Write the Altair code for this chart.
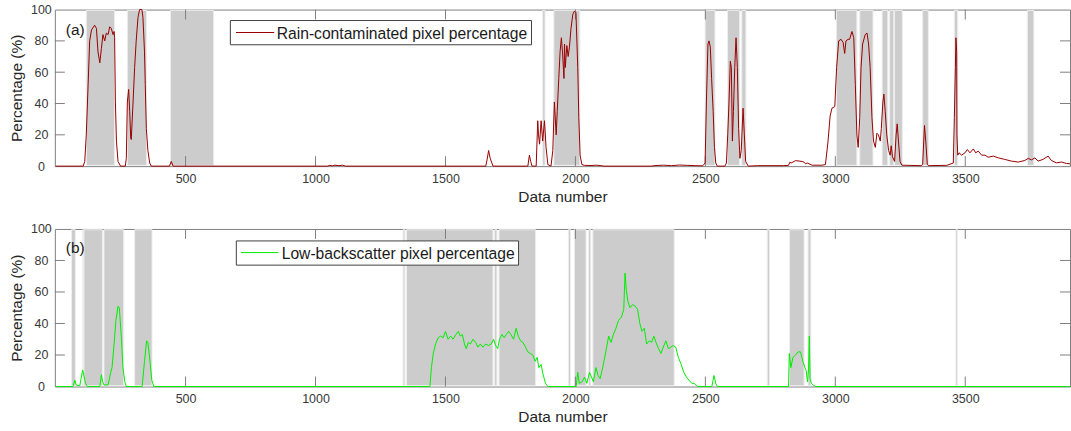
import altair as alt
import pandas as pd

FONT = "Liberation Sans"
TXT = "#262626"
TICK_LBL = "#383838"
BOX = "#7f7f7f"

X_TICKS = [500, 1000, 1500, 2000, 2500, 3000, 3500]
Y_TICKS = [0, 20, 40, 60, 80, 100]
X_DOMAIN = [-3, 3903]

X_TITLE = "Data number"
Y_TITLE = "Percentage (%)"
LEGEND_A = "Rain-contaminated pixel percentage"
LEGEND_B = "Low-backscatter pixel percentage"

# ---------------- panel (a): rain-contaminated pixel percentage ----------------
RAIN_X1 = [0, 106, 112, 118, 125, 131, 138, 150, 157, 163, 170, 176, 182, 189, 195, 202, 208, 214, 221, 225, 227, 230, 234, 240, 250]
RAIN_Y1 = [0, 0, 3, 20, 52, 80, 87, 90, 88, 73, 66, 75, 84, 80, 85, 84, 89, 88, 84, 86, 82, 41, 16, 3, 0]
RAIN_X2 = [268, 272, 276, 281, 285, 289, 291, 298, 304, 310, 317, 323, 332, 336, 342, 345, 349, 355, 362, 368]
RAIN_Y2 = [0, 5, 41, 49, 35, 18, 17, 41, 63, 80, 95, 100, 100, 95, 73, 52, 24, 10, 2, 0]
RAIN_X3 = [438, 445, 452, 1045, 1055, 1065, 1075, 1090, 1105, 1115, 1655, 1660, 1666, 1672, 1683, 1810, 1817, 1823, 1828, 1833, 1845]
RAIN_Y3 = [0, 3, 0, 0, 0.5, 0.2, 0.6, 0.3, 0.6, 0, 0, 4, 10, 5, 0, 0, 0, 7, 3, 0, 0]
RAIN_X4 = [1849, 1855, 1858, 1862, 1868, 1874, 1881, 1887, 1894, 1906, 1913, 1919, 1926, 1930, 1936, 1941, 1946, 1951, 1956, 1958,
           1961, 1967, 1972, 1977, 1983, 1990, 1996, 2002, 2009, 2013, 2018, 2025]
RAIN_Y4 = [0, 29, 20, 14, 29, 16, 29, 12, 1, 0, 10, 41, 20, 35, 56, 73, 82, 71, 56, 78,
           63, 77, 70, 76, 88, 97, 99, 98, 63, 31, 7, 1]
RAIN_X5 = [2035, 2060, 2080, 2100, 2110, 2290, 2310, 2340, 2370, 2400, 2430, 2460, 2490]
RAIN_Y5 = [0.5, 0.4, 0.6, 0.3, 0, 0, 0.4, 0.6, 0.3, 0.7, 0.5, 0.3, 0.2]
RAIN_X6 = [2499, 2504, 2510, 2514, 2519, 2524, 2530, 2535, 2540, 2546, 2575, 2581, 2586, 2591, 2596, 2600, 2604, 2608, 2613, 2618,
           2623, 2628, 2633, 2638, 2645, 2650, 2655, 2665]
RAIN_Y6 = [2, 41, 78, 80, 76, 56, 35, 12, 2, 0, 0, 2, 20, 41, 67, 63, 16, 35, 63, 82,
           63, 24, 5, 10, 37, 20, 3, 0]
RAIN_X7 = [2700, 2800, 2820, 2825, 2830, 2847, 2872, 2880, 2885, 2892, 2911, 2949, 2962, 2972, 2980, 2987, 2998, 3005, 3013, 3022,
           3030, 3036, 3041, 3049, 3055, 3064, 3071, 3077, 3083, 3088, 3094, 3099, 3105, 3115, 3122, 3128, 3134, 3141, 3147, 3154,
           3160, 3166, 3173, 3177, 3183, 3187, 3192, 3198, 3205, 3211, 3215, 3220, 3228, 3234, 3238, 3243, 3249, 3256]
RAIN_Y7 = [0.3, 0.3, 0.5, 2.5, 2, 3.5, 3, 2.5, 1.5, 2, 0.6, 0.6, 1, 16, 32, 37, 38, 63, 80, 81,
           79, 72, 80, 81, 81, 86, 82, 52, 20, 12, 31, 63, 78, 84, 85, 78, 63, 31, 16, 12,
           21, 20, 16, 24, 41, 46, 35, 20, 10, 7, 13, 6, 3, 20, 27, 16, 3, 0.6]
RAIN_X8 = [3330, 3336, 3343, 3348, 3354, 3360, 3429, 3454, 3458, 3462, 3464, 3467, 3468, 3471, 3476, 3486, 3499, 3508, 3518, 3531,
           3540, 3550, 3563, 3576, 3588, 3608, 3627, 3652, 3678, 3704, 3729, 3742, 3755, 3768, 3780, 3799, 3819, 3831, 3851, 3870,
           3889, 3903]
RAIN_Y8 = [0.3, 1, 26, 16, 1, 0.3, 0.5, 2, 31, 63, 82, 73, 20, 7, 8.5, 7, 8.5, 10.6, 8.5, 11,
           8.5, 9.6, 7, 7, 5.7, 6.4, 5.3, 4.3, 3.2, 2.6, 3.6, 4.9, 4, 5.3, 3.2, 4.3, 6.4, 3.6, 2.1, 2.6,
           1.7, 1.5]

RAIN_PATCH_START = [118, 276, 442, 1874, 1917, 2499, 2585, 2640, 3004, 3094, 3180, 3209, 3228, 3336, 3458, 3739]
RAIN_PATCH_END = [227, 350, 608, 1883, 2017, 2537, 2632, 2656, 3083, 3145, 3202, 3225, 3258, 3358, 3471, 3764]

# ---------------- panel (b): low-backscatter pixel percentage ----------------
LOW_X1 = [0, 67, 74, 79, 93, 99, 104, 110, 115, 122, 170, 176, 181, 186, 202, 212, 217, 225, 232, 240,
          245, 253, 259, 266, 272, 333, 342, 350, 355, 363, 370, 378]
LOW_Y1 = [0, 0, 4, 1, 0.5, 6, 10.5, 6, 2, 0, 0, 7.5, 3, 1, 1, 9, 12, 27, 42, 51,
          50, 31, 12, 3, 0, 0, 16, 29, 28, 16, 4, 0]
LOW_X2 = [1440, 1446, 1453, 1462, 1472, 1481, 1491, 1500, 1510, 1520, 1529, 1540, 1549, 1557, 1565, 1573, 1580, 1588, 1596, 1606,
          1616, 1625, 1634, 1644, 1655, 1665, 1676, 1685, 1693, 1701, 1708, 1717, 1726, 1734, 1743, 1752, 1762, 1772, 1780, 1789,
          1798, 1808, 1817, 1826, 1836, 1845, 1853, 1859, 1868, 1875, 1885, 1894]
LOW_Y2 = [0, 12, 21, 27, 31, 32, 31, 35, 30, 32, 30, 33, 35, 32, 33, 27, 24, 28, 27, 30,
          28, 25, 27, 25, 27, 26, 27, 30, 26, 24, 30, 33, 31, 33, 35, 33, 30, 37, 32, 29,
          28, 25, 22, 21, 20, 16, 18.5, 12, 14, 8, 2, 0]
LOW_X3 = [2003, 2009, 2015, 2026, 2035, 2044, 2054, 2062, 2069, 2079, 2087, 2095, 2105, 2118, 2128, 2137, 2146, 2156, 2166, 2177,
          2186, 2191, 2196, 2202, 2210, 2220, 2230, 2239, 2248, 2256, 2265, 2274, 2284, 2293, 2302, 2310, 2320, 2329, 2338, 2348,
          2358, 2367, 2376, 2386, 2396, 2407, 2417, 2427, 2437, 2448, 2457, 2469, 2525, 2533, 2540, 2546]
LOW_Y3 = [0, 9, 2, 3, 6, 2, 9, 6, 3, 12, 7, 5, 12, 23, 32, 28, 33, 37, 42, 44,
          49, 72, 61, 54, 50, 52, 51, 49, 40, 35, 37, 27, 29, 28, 32, 28, 24, 21, 25, 29,
          24, 25, 26, 25, 18.5, 14, 9, 6, 4, 2, 2, 0, 0, 7, 2, 0]
LOW_X4 = [2820, 2823, 2829, 2837, 2847, 2857, 2866, 2875, 2883, 2888, 2893, 2897, 2900, 2903, 2908, 2917, 2926, 3903]
LOW_Y4 = [0, 21, 12, 18.5, 20, 22, 22, 16, 12, 10, 3, 11, 32, 5, 2, 0.6, 0, 0]

LOW_PATCH_START = [61, 104, 109, 186, 304, 1337, 1350, 1689, 1706, 1973, 1996, 2051, 2067, 2738, 2824, 2895, 3464]
LOW_PATCH_END = [76, 108, 180, 262, 371, 1344, 1683, 1698, 1847, 1981, 2041, 2059, 2380, 2747, 2880, 2906, 3470]

RAIN_X = RAIN_X1 + RAIN_X2 + RAIN_X3 + RAIN_X4 + RAIN_X5 + RAIN_X6 + RAIN_X7 + RAIN_X8
RAIN_Y = RAIN_Y1 + RAIN_Y2 + RAIN_Y3 + RAIN_Y4 + RAIN_Y5 + RAIN_Y6 + RAIN_Y7 + RAIN_Y8
LOW_X = LOW_X1 + LOW_X2 + LOW_X3 + LOW_X4
LOW_Y = LOW_Y1 + LOW_Y2 + LOW_Y3 + LOW_Y4
assert len(RAIN_X) == len(RAIN_Y) and len(LOW_X) == len(LOW_Y)
assert len(RAIN_PATCH_START) == len(RAIN_PATCH_END) and len(LOW_PATCH_START) == len(LOW_PATCH_END)

W = 1018


def panel(xs, ys, p_start, p_end, color, tag, legend_text, H, box, sample, text_xy, tag_xy, anchor=False):
    xscale = alt.Scale(domain=X_DOMAIN, nice=False, zero=False)
    yscale = alt.Scale(domain=[0, 100], nice=False, zero=False)

    x_axis = alt.Axis(
        values=X_TICKS, format="d", ticks=False, domain=False, grid=False,
        labelFont=FONT, labelFontSize=12.5, labelColor=TICK_LBL, labelPadding=6,
        title=X_TITLE, titleFont=FONT, titleFontSize=15.5, titleFontWeight="normal",
        titleColor=TXT, titlePadding=5,
    )
    y_axis = alt.Axis(
        values=Y_TICKS, format="d", ticks=False, domain=False, grid=False,
        labelFont=FONT, labelFontSize=12.5, labelColor=TICK_LBL, labelAlign="center",
        labelBaseline="middle", labelPadding=14, labelFlush=False,
        title=Y_TITLE, titleFont=FONT, titleFontSize=15.5, titleFontWeight="normal",
        titleColor=TXT, titleAngle=270, titleX=-33, titleY=H / 2, titleAlign="center",
        titleBaseline="alphabetic",
    )

    def X(f):
        return alt.X(f, scale=xscale, axis=x_axis)

    def Y(f):
        return alt.Y(f, scale=yscale, axis=y_axis)

    patches = alt.Chart(pd.DataFrame({"s": p_start, "e": p_end, "lo": [0.5] * len(p_start),
                                      "hi": [99.5] * len(p_start)})).mark_rect(
        fill="#cccccc", stroke="#eeeeee", strokeWidth=1
    ).encode(x=X("s:Q"), x2="e:Q", y=Y("lo:Q"), y2="hi:Q")

    tdf = pd.DataFrame({"t": X_TICKS})
    ydf = pd.DataFrame({"t": Y_TICKS[1:-1]})
    tick_b = alt.Chart(tdf).mark_rule(color=BOX, strokeWidth=1).encode(
        x=X("t:Q"), y=alt.value(H), y2=alt.value(H - 10))
    tick_t = alt.Chart(tdf).mark_rule(color=BOX, strokeWidth=1).encode(
        x=X("t:Q"), y=alt.value(0), y2=alt.value(10))
    tick_l = alt.Chart(ydf).mark_rule(color=BOX, strokeWidth=1).encode(
        y=Y("t:Q"), x=alt.value(0), x2=alt.value(10))
    tick_r = alt.Chart(ydf).mark_rule(color=BOX, strokeWidth=1).encode(
        y=Y("t:Q"), x=alt.value(W - 10), x2=alt.value(W))

    line = alt.Chart(pd.DataFrame({"n": xs, "p": ys})).mark_line(
        color=color, strokeWidth=1, strokeJoin="round"
    ).encode(x=X("n:Q"), y=Y("p:Q"), order="n:Q")

    one = pd.DataFrame({"t": [legend_text], "g": [tag]})
    lbox = alt.Chart(one).mark_rect(fill="white", stroke="#404040", strokeWidth=1).encode(
        x=alt.value(box[0]), x2=alt.value(box[1]), y=alt.value(box[2]), y2=alt.value(box[3]))
    lline = alt.Chart(one).mark_rule(color=color, strokeWidth=1).encode(
        x=alt.value(sample[0]), x2=alt.value(sample[1]), y=alt.value(sample[2]))
    ltext = alt.Chart(one).mark_text(
        align="left", baseline="alphabetic", font=FONT, fontSize=15.7, color="#1a1a1a"
    ).encode(x=alt.value(text_xy[0]), y=alt.value(text_xy[1]), text="t:N")
    tagtext = alt.Chart(one).mark_text(
        align="left", baseline="alphabetic", font=FONT, fontSize=15.5, color="#1a1a1a"
    ).encode(x=alt.value(tag_xy[0]), y=alt.value(tag_xy[1]), text="g:N")

    layers = [patches, tick_b, tick_t, tick_l, tick_r, line, lbox, lline, ltext, tagtext]
    if anchor:
        anc = alt.Chart(one).mark_rect(opacity=0).encode(
            x=alt.value(-54), x2=alt.value(-53), y=alt.value(-8), y2=alt.value(-7))
        layers.append(anc)
    return alt.layer(*layers).properties(width=W, height=H)


panel_a = panel(RAIN_X, RAIN_Y, RAIN_PATCH_START, RAIN_PATCH_END, "#990000", "(a)", LEGEND_A, 157,
                box=(176, 478, 11, 35.3), sample=(181.7, 220, 23), text_xy=(222.5, 29.3),
                tag_xy=(11, 25.5), anchor=True)
panel_b = panel(LOW_X, LOW_Y, LOW_PATCH_START, LOW_PATCH_END, "#00ee00", "(b)", LEGEND_B, 158,
                box=(182, 465, 12, 36.3), sample=(186.7, 224.3, 23.7), text_xy=(227.5, 30.3),
                tag_xy=(11, 24), anchor=False)

chart = alt.vconcat(panel_a, panel_b, spacing=63, bounds="flush").properties(
    padding={"left": 0, "top": 0, "right": 0, "bottom": 0},
    autosize=alt.AutoSizeParams(type="pad"),
    background="white",
).configure_view(stroke=BOX, strokeWidth=1)

chart.save("out.html", embed_options={"renderer": "svg", "actions": False})
